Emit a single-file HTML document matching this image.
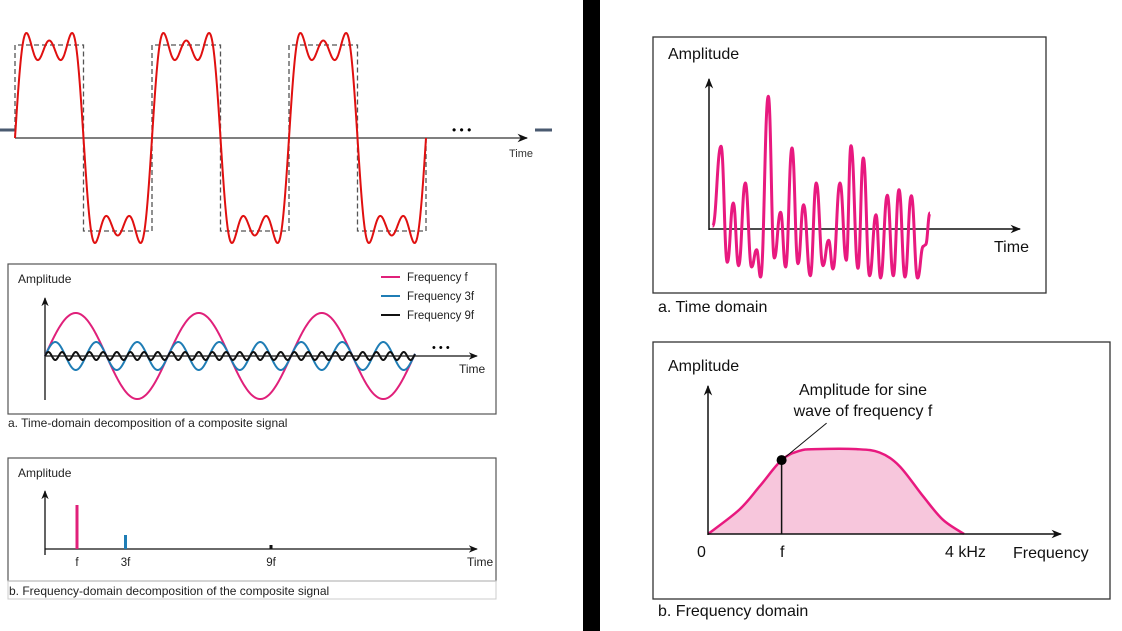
<!DOCTYPE html>
<html><head><meta charset="utf-8"><style>
html,body{margin:0;padding:0;background:#fff;width:1122px;height:631px;overflow:hidden}
svg{display:block}
text{font-family:"Liberation Sans",sans-serif}
</style></head><body>
<svg id="s" width="1122" height="631" viewBox="0 0 1122 631" xmlns="http://www.w3.org/2000/svg">
<defs><marker id="ar" viewBox="0 0 10 10" refX="9" refY="5" markerWidth="7" markerHeight="7" orient="auto"><path d="M0,1 L10,5 L0,9 L3,5z" fill="#111"/></marker></defs>
<rect x="583" y="0" width="17" height="631" fill="#000"/>
<g id="topG">
<line x1="0" y1="130" x2="15" y2="130" stroke="#4a5a70" stroke-width="3"/>
<line x1="535" y1="130" x2="552" y2="130" stroke="#4a5a70" stroke-width="3"/>
<line x1="15" y1="138" x2="527" y2="138" stroke="#555" stroke-width="1.5" marker-end="url(#ar)"/>
<text x="452" y="134" font-size="12">• • •</text>
<text x="509" y="157" font-size="11" fill="#333">Time</text>
</g>
<rect x="8" y="264" width="488" height="150" fill="none" stroke="#555" stroke-width="1.2"/>
<text x="18" y="283" font-size="12" fill="#222">Amplitude</text>
<line x1="45" y1="400" x2="45" y2="298" stroke="#111" stroke-width="1.3" marker-end="url(#ar)"/>
<line x1="45" y1="356" x2="477" y2="356" stroke="#111" stroke-width="1.3" marker-end="url(#ar)"/>
<text x="432" y="351" font-size="11">• • •</text>
<text x="459" y="373" font-size="12" fill="#222">Time</text>
<g id="legend"></g>
<g id="mid"></g>
<text x="8" y="427" font-size="12" fill="#222">a. Time-domain decomposition of a composite signal</text>
<rect x="8" y="458" width="488" height="123" fill="none" stroke="#555" stroke-width="1.2"/>
<rect x="8" y="581" width="488" height="18" fill="none" stroke="#ccc" stroke-width="1"/>
<text x="18" y="477" font-size="12" fill="#222">Amplitude</text>
<line x1="45" y1="555" x2="45" y2="491" stroke="#111" stroke-width="1.3" marker-end="url(#ar)"/>
<line x1="45" y1="549" x2="477" y2="549" stroke="#111" stroke-width="1.3" marker-end="url(#ar)"/>
<text x="467" y="566" font-size="12" fill="#222">Time</text>
<g id="bars"></g>
<text x="9" y="595" font-size="12" fill="#222">b. Frequency-domain decomposition of the composite signal</text>
<rect x="653" y="37" width="393" height="256" fill="none" stroke="#333" stroke-width="1.3"/>
<text x="668" y="59" font-size="16" fill="#111">Amplitude</text>
<line x1="709" y1="230" x2="709" y2="79" stroke="#111" stroke-width="1.5" marker-end="url(#ar)"/>
<line x1="709" y1="229" x2="1020" y2="229" stroke="#111" stroke-width="1.5" marker-end="url(#ar)"/>
<text x="994" y="252" font-size="16" fill="#111">Time</text>
<g id="tdw"></g>
<text x="658" y="312" font-size="16" fill="#111">a. Time domain</text>
<rect x="653" y="342" width="457" height="257" fill="none" stroke="#333" stroke-width="1.3"/>
<text x="668" y="371" font-size="16" fill="#111">Amplitude</text>
<g id="spec"></g>
<line x1="708" y1="535" x2="708" y2="386" stroke="#111" stroke-width="1.5" marker-end="url(#ar)"/>
<line x1="708" y1="534" x2="1061" y2="534" stroke="#111" stroke-width="1.5" marker-end="url(#ar)"/>
<text x="697" y="557" font-size="16" fill="#111">0</text>
<text x="780" y="557" font-size="16" fill="#111">f</text>
<text x="945" y="557" font-size="16" fill="#111">4 kHz</text>
<text x="1013" y="558" font-size="16" fill="#111">Frequency</text>
<text x="863" y="395" font-size="16" fill="#111" text-anchor="middle">Amplitude for sine</text>
<text x="863" y="416" font-size="16" fill="#111" text-anchor="middle">wave of frequency f</text>
<text x="658" y="616" font-size="16" fill="#111">b. Frequency domain</text>
</svg>
<script>
const sqHarmonics = [1, 3, 5];
const sqWeights = [1, 1/3, 1/5];
const sqPeriods = 3;
const decompFreqs = [1, 3, 9];
const decompAmps = [43, 14, 4];
const decompNames = ['Frequency f', 'Frequency 3f', 'Frequency 9f'];
const decompColors = ['#e0207a', '#1f7db5', '#111'];
const specCats = ['f', '3f', '9f'];
const specPos = [1, 3, 9];
const specHeights = [44, 14, 4];
const tdTime = [4.3,12.7,19,25,30.3,37,43.3,48.3,52.3,60,66,72.3,77.3,83.7,89.7,95.3,102,108,114.7,120.3,124.7,131.7,138,142.7,149.7,155,161.3,167.7,172.3,179,185,190.7,196.7,203,209.3,215,217.3,221.7];
const tdAmp = [2.7,82.7,-33.3,26,-36.7,46,-38,-20.7,-48,132.7,-29,16.7,-38,81,-34.7,24.3,-46.7,46,-36.7,-11.3,-40,46,-31.3,83.3,-39.3,71,-46.7,14.3,-49,33.7,-46.7,39.3,-48,33.3,-49,-17.3,-15.7,16];
const specFreq = [0,0.49,0.81,1.15,1.43,1.69,2.32,2.68,2.99,3.36,3.67,4.0];
const specAmp = [0,0.29,0.57,0.88,0.99,1.01,1.01,0.97,0.81,0.45,0.17,0];
const markFreq = 1.15;
const NS='http://www.w3.org/2000/svg';
function mk(tag, parent, attrs){const el=document.createElementNS(NS,tag);for(const k in attrs)el.setAttribute(k,attrs[k]);parent.appendChild(el);return el;}
const svgRoot=document.getElementById('s');

const topG=document.getElementById('topG');
const tx0=15, tPer=137, ty0=138, sqH=93;
const txs=p=>tx0+p*tPer, tys=v=>ty0-v*sqH;
let sq='';
for(let i=0;i<sqPeriods;i++){const a=txs(i),b=txs(i+0.5),c=txs(i+1);sq+=`M${a},${ty0}V${tys(1)}H${b}V${tys(-1)}H${c}V${ty0}`;}
let el=mk('path',topG,{d:sq,fill:'none',stroke:'#555','stroke-width':1.3,'stroke-dasharray':'5,3'});


let dd='';
for(let i=0;i<=sqPeriods*400;i++){const p=i/400;let v=0;for(let k=0;k<sqHarmonics.length;k++)v+=sqWeights[k]*Math.sin(2*Math.PI*sqHarmonics[k]*p);v*=4/Math.PI*0.95;dd+=(i?'L':'M')+txs(p).toFixed(2)+','+tys(v).toFixed(2);}
el=mk('path',topG,{d:dd,fill:'none',stroke:'#e01010','stroke-width':2});



const midG=document.getElementById('mid'), legG=document.getElementById('legend');
const mx0=45, mPer=123, my0=356, mEnd=415;
for(let s=0;s<decompFreqs.length;s++){
  let p='';for(let x=mx0;x<=mEnd;x+=0.5){const v=decompAmps[s]*Math.sin(2*Math.PI*decompFreqs[s]*(x-mx0)/mPer);p+=(x===mx0?'M':'L')+x+','+(my0-v).toFixed(2);}
  el=mk('path',midG,{d:p,fill:'none',stroke:decompColors[s],'stroke-width':2});
  
  
  const ly=277+s*19;
  el=mk('line',legG,{x1:381,y1:ly,x2:400,y2:ly,stroke:decompColors[s],'stroke-width':2});
  
  
  el=mk('text',legG,{x:407,y:ly+4,'font-size':11.5,fill:'#222'});el.textContent=decompNames[s];
  
  
}

const barsG=document.getElementById('bars');
const bxs=v=>52.75+v*24.25, by0=549;
for(let i=0;i<specCats.length;i++){
  el=mk('rect',barsG,{x:bxs(specPos[i])-1.5,y:by0-specHeights[i],width:3,height:specHeights[i],fill:decompColors[i]});
  
  
  el=mk('text',barsG,{x:bxs(specPos[i]),y:566,'font-size':11.5,fill:'#222','text-anchor':'middle'});el.textContent=specCats[i];
  
  
}

const tdwG=document.getElementById('tdw');
const cxs=t=>708.3+t, cys=a=>229-a;
let cp='M'+cxs(tdTime[0])+','+cys(tdAmp[0]);
for(let i=1;i<tdTime.length;i++){const x0=cxs(tdTime[i-1]),x1=cxs(tdTime[i]),y0=cys(tdAmp[i-1]),y1=cys(tdAmp[i]);const m=(x1-x0)*0.45;cp+=`C${(x0+m).toFixed(2)},${y0.toFixed(2)} ${(x1-m).toFixed(2)},${y1.toFixed(2)} ${x1.toFixed(2)},${y1.toFixed(2)}`;}
el=mk('path',tdwG,{d:cp,fill:'none',stroke:'#e8197f','stroke-width':3,'stroke-linejoin':'round'});



const specG=document.getElementById('spec');
const fxs=f=>708+f*64, fys=a=>534-a*84;
const P=specFreq.map((f,i)=>[fxs(f),fys(specAmp[i])]);
let sp='M'+P[0][0]+','+P[0][1];
for(let i=0;i<P.length-1;i++){const p0=P[Math.max(0,i-1)],p1=P[i],p2=P[i+1],p3=P[Math.min(P.length-1,i+2)];
 sp+=`C${(p1[0]+(p2[0]-p0[0])/6).toFixed(2)},${(p1[1]+(p2[1]-p0[1])/6).toFixed(2)} ${(p2[0]-(p3[0]-p1[0])/6).toFixed(2)},${(p2[1]-(p3[1]-p1[1])/6).toFixed(2)} ${p2[0].toFixed(2)},${p2[1].toFixed(2)}`;}
el=mk('path',specG,{d:sp+'Z',fill:'#f7c6dc',stroke:'none'});


el=mk('path',specG,{d:sp,fill:'none',stroke:'#e8197f','stroke-width':2.5});


const mi=specFreq.indexOf(markFreq);
const mkx=fxs(markFreq), mky=fys(specAmp[mi]);
el=mk('line',svgRoot,{x1:mkx,y1:mky,x2:mkx,y2:534,stroke:'#111','stroke-width':1.5});


el=mk('line',svgRoot,{x1:mkx,y1:mky,x2:mkx+45,y2:mky-37,stroke:'#111','stroke-width':1});


el=mk('circle',svgRoot,{cx:mkx,cy:mky,r:5,fill:'#000'});


</script>
</body></html>
